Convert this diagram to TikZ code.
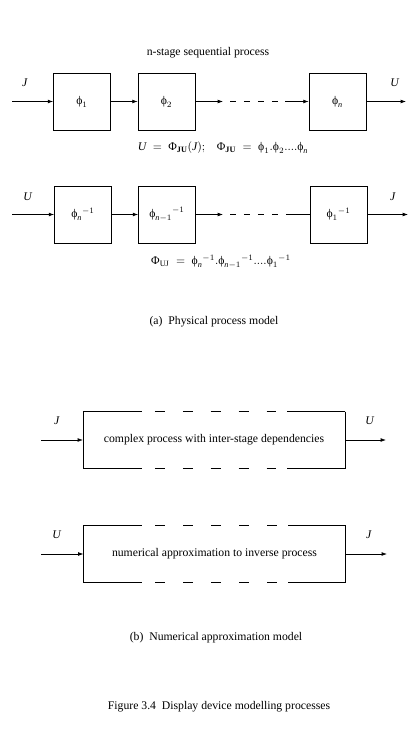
\documentclass[tikz,border=0pt]{standalone}
\usepackage{amsmath}
\usepackage{fontspec}
\setmainfont{Liberation Serif}
\usetikzlibrary{arrows.meta,calc}

\newcommand{\ph}{\text{ϕ}}
\newcommand{\Ph}{\text{Φ}}

\begin{document}
\begin{tikzpicture}[x=0.03cm,y=-0.03cm,font=\fontsize{10}{12}\selectfont,
  line width=0.6pt,>={Latex[length=4.5pt,width=3.2pt]},
  lbl/.style={inner sep=1pt},
  gap/.style={dash pattern=on 5.1pt off 6.8pt},
  longgap/.style={dash pattern=on 8.5pt off 15.3pt}]
\tikzstyle{blk}=[draw, minimum width=1.71cm, minimum height=1.71cm, inner sep=0pt]
\tikzstyle{wide}=[minimum width=7.84cm, minimum height=1.68cm, inner sep=0pt]
\useasboundingbox (0,0) rectangle (417,733);

% (a) forward chain of stages
\node[lbl] (t) at (208,53) {n-stage sequential process};
\node[blk] (1) at (82,101.5) {$\ph_1$};
\node[blk] (2) at (166.5,101.5) {$\ph_2$};
\node[blk] (n) at (337.5,101.5) {$\ph_{\textit{n}}$};
\coordinate (in1) at (12,101.5);
\coordinate (out1) at (406,101.5);
\coordinate (a1) at (223,101.5);
\coordinate (a2) at (230,101.5);
\coordinate (a3) at (285,101.5);
\foreach \i/\j in {in1/1,1/2,2/a1,a3/n,n/out1}{\draw[->] (\i) -- (\j);}
\draw[gap] (a2) -- (a3);
\node[lbl] (j1) at (25,83) {\textit{J}};
\node[lbl] (u1) at (395,83) {\textit{U}};
\node[lbl] (eq1) at (223,148) {$\textit{U} \;=\; \Ph_{\textbf{JU}}(\textit{J});\;\;\; \Ph_{\textbf{JU}} \;=\; \ph_1.\ph_2....\ph_{\textit{n}}$};

% inverse chain
\node[blk] (r1) at (83,214.5) {$\ph_{\textit{n}}{}^{-1}$};
\node[blk] (r2) at (167,214.5) {$\ph_{\textit{n}-1}{}^{-1}$};
\node[blk] (rn) at (338.5,214.5) {$\ph_1{}^{-1}$};
\coordinate (in2) at (12,214.5);
\coordinate (out2) at (408,214.5);
\coordinate (b1) at (223,214.5);
\coordinate (b2) at (230,214.5);
\coordinate (b3) at (286,214.5);
\foreach \i/\j in {in2/r1,r1/r2,r2/b1,rn/out2}{\draw[->] (\i) -- (\j);}
\draw[gap] (b2) -- (b3);
\draw (b3) -- (rn);
\node[lbl] (u2) at (28,197) {\textit{U}};
\node[lbl] (j2) at (393,197) {\textit{J}};
\node[lbl] (eq2) at (221,262) {$\Ph_{\text{UJ}} \;=\; \ph_{\textit{n}}{}^{-1}.\ph_{\textit{n}-1}{}^{-1}....\ph_1{}^{-1}$};

\node[lbl] (capa) at (214,322) {(a)~~Physical process model};

% (b) lumped blocks with broken top and bottom edges
\node[wide] (c) at (214,440) {complex process with inter-stage dependencies};
\node[wide] (d) at (214.5,554) {numerical approximation to inverse process};
\foreach \b in {c,d}{
  \draw (\b.north west) -- ++(59,0) (\b.north west) -- (\b.south west) -- ++(59,0);
  \draw (\b.north east) -- ++(-58,0) (\b.north east) -- (\b.south east) -- ++(-58,0);
  \draw[longgap] ($(\b.north west)+(72,0)$) -- ++(122,0);
  \draw[longgap] ($(\b.south west)+(72,0)$) -- ++(122,0);
}
\coordinate (cin) at (41,440);
\coordinate (cout) at (386,440);
\coordinate (din) at (41,554);
\coordinate (dout) at (387,554);
\foreach \i/\j in {cin/c,c/cout,din/d,d/dout}{\draw[->] (\i) -- (\j);}
\node[lbl] (j3) at (57,421) {\textit{J}};
\node[lbl] (u3) at (370,421) {\textit{U}};
\node[lbl] (u4) at (57,535) {\textit{U}};
\node[lbl] (j4) at (369,535) {\textit{J}};

\node[lbl] (capb) at (216,638) {(b)~~Numerical approximation model};
\node[lbl] (fig) at (219,707) {Figure 3.4~~Display device modelling processes};
\end{tikzpicture}
\end{document}
